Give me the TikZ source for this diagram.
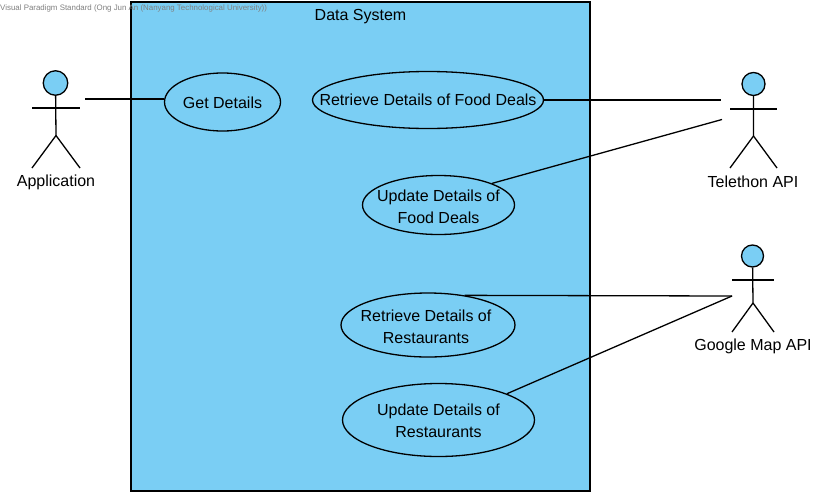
\documentclass[tikz,border=0pt]{standalone}
\usepackage{fontspec}
\setmainfont{Liberation Sans}
\usetikzlibrary{shapes.geometric}
\definecolor{vpblue}{HTML}{7ACEF4}
\newcommand{\casetext}[3]{\raisebox{#2}[\height][\depth]{\hspace*{#1}\begin{tabular}{@{}c@{}}#3\end{tabular}\hspace*{-#1}}}
\tikzset{
  usecase/.style={draw,ellipse,fill=vpblue,line width=1.3pt,inner sep=-30pt,font=\fontsize{16}{22}\selectfont},
  actorname/.style={inner sep=0pt,font=\fontsize{16}{18}\selectfont},
  actorhead/.style={draw,circle,fill=vpblue,line width=1.3pt,inner sep=0pt},
  link/.style={line width=1.3pt},
}
\begin{document}
\begin{tikzpicture}[x=1pt,y=-1pt]
\useasboundingbox (0,0) rectangle (832,498);
\fill[white] (0,0) rectangle (832,498);
\draw[line width=1.3pt,fill=vpblue] (131,2) rectangle (590,491);
\node[actorname] (title) at (360.5,16.5) {Data System};

% use cases
\node[usecase,minimum width=116pt,minimum height=58pt] (getDetails) at (222.5,102) {\casetext{0pt}{-2.5pt}{Get Details}};
\node[usecase,minimum width=231pt,minimum height=57pt] (retrieveFood) at (428,100) {\casetext{0pt}{-1.5pt}{Retrieve Details of Food Deals}};
\node[usecase,minimum width=152pt,minimum height=59pt] (updateFood) at (438.5,205) {\casetext{0pt}{-3.5pt}{Update Details of\\Food Deals}};
\node[usecase,minimum width=174pt,minimum height=64pt] (retrieveRest) at (428,325) {\casetext{-2pt}{-3.5pt}{Retrieve Details of\\Restaurants}};
\node[usecase,minimum width=192pt,minimum height=73pt] (updateRest) at (438.5,420) {\casetext{0pt}{-2pt}{Update Details of\\Restaurants}};

% actor on the left
\node[actorhead,minimum size=24.5pt] (appHead) at (55.5,83) {};
\coordinate (appHip) at (56,135.5);
\coordinate (appArmL) at (32,108);
\coordinate (appArmR) at (80,108);
\coordinate (appFootL) at (32,168);
\coordinate (appFootR) at (80,168);
\coordinate (appEnd) at (85,99);
\node[actorname] (appName) at (56,182) {Application};
\draw[link] (appHead) -- (appHip) -- (appFootL);
\draw[link] (appHip) -- (appFootR);
\draw[link] (appArmL) -- (appArmR);

% actors on the right
\node[actorhead,minimum size=23pt] (telHead) at (753.5,84) {};
\coordinate (telHip) at (753.5,136);
\coordinate (telArmL) at (730,109);
\coordinate (telArmR) at (777,109);
\coordinate (telFootL) at (730,168);
\coordinate (telFootR) at (777,168);
\coordinate (telEndA) at (721,100);
\coordinate (telEndB) at (722,119.5);
\node[actorname] (telName) at (753,181.5) {Telethon API};
\draw[link] (telHead) -- (telHip) -- (telFootL);
\draw[link] (telHip) -- (telFootR);
\draw[link] (telArmL) -- (telArmR);

\node[actorhead,minimum size=22pt] (mapHead) at (752.5,256) {};
\coordinate (mapHip) at (753,303);
\coordinate (mapArmL) at (732,280);
\coordinate (mapArmR) at (774,280);
\coordinate (mapFootL) at (732,332);
\coordinate (mapFootR) at (774,332);
\coordinate (mapEnd) at (732,296);
\node[actorname] (mapName) at (753,346) {Google Map API};
\draw[link] (mapHead) -- (mapHip) -- (mapFootL);
\draw[link] (mapHip) -- (mapFootR);
\draw[link] (mapArmL) -- (mapArmR);

% associations
\draw[link] (appEnd) -- (getDetails.west |- appEnd);
\draw[link] (retrieveFood.east) -- (telEndA);
\draw[link] (updateFood.22) -- (telEndB);
\draw[link] (retrieveRest.39) -- (mapEnd);
\draw[link] (updateRest.21) -- (mapEnd);

\node[anchor=west,inner sep=0pt,text=black!50,font=\fontsize{7.9}{9}\selectfont] (stamp) at (0,8) {Visual Paradigm Standard (Ong Jun An (Nanyang Technological University))};
\end{tikzpicture}
\end{document}
